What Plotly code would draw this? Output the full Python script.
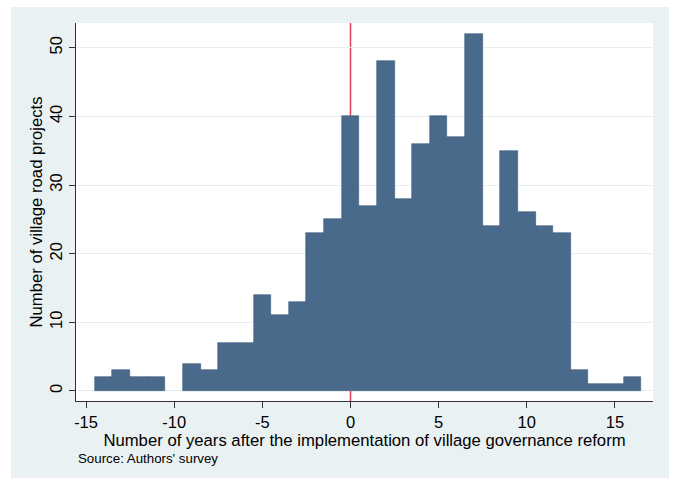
import plotly.graph_objects as go

years = [-14, -13, -12, -11, -10, -9, -8, -7, -6, -5, -4, -3, -2, -1, 0, 1, 2, 3, 4, 5, 6, 7, 8, 9, 10, 11, 12, 13, 14, 15, 16]
counts = [2, 3, 2, 2, 0, 4, 3, 7, 7, 14, 11, 13, 23, 25, 40, 27, 48, 28, 36, 40, 37, 52, 24, 35, 26, 24, 23, 3, 1, 1, 2]
x_ticks = [-15, -10, -5, 0, 5, 10, 15]
x_tick_labels = ["-15", "-10", "-5", "0", "5", "10", "15"]
y_ticks = [0, 10, 20, 30, 40, 50]
reform_year = 0

BG = "#EAF1F3"
BAR = "#4A6A8C"
FONT = "Liberation Sans, Arial, sans-serif"

fig = go.Figure()
fig.add_trace(go.Bar(
    x=years, y=counts, width=1,
    marker=dict(color=BAR, line=dict(color="#3F5E7E",
                                     width=[0.6 if c > 0 else 0 for c in counts])),
    showlegend=False,
))

fig.add_shape(type="rect", xref="paper", yref="paper",
              x0=-0.1127, x1=1.0277, y0=-0.2037, y1=1.0423,
              fillcolor=BG, line=dict(width=0), layer="below")
fig.add_shape(type="rect", xref="paper", yref="paper",
              x0=0, x1=1, y0=0, y1=1,
              fillcolor="white", line=dict(width=0), layer="below")
fig.add_shape(type="line", xref="x", yref="paper",
              x0=reform_year, x1=reform_year, y0=0, y1=1,
              line=dict(color="#E0405A", width=1.5), layer="below")

fig.add_annotation(text="Source: Authors' survey", xref="paper", yref="paper",
                   x=0.0, y=-0.152, xanchor="left", yanchor="middle",
                   showarrow=False, font=dict(size=13.3, color="black", family=FONT))

fig.update_layout(
    width=673, height=480,
    margin=dict(l=76, r=20, t=23, b=79),
    paper_bgcolor="white", plot_bgcolor="rgba(0,0,0,0)",
    font=dict(family=FONT, color="black", size=16),
    bargap=0,
    xaxis=dict(
        range=[-15.57, 17.16], tickvals=x_ticks, ticktext=x_tick_labels,
        ticks="outside", ticklen=6, automargin=False,
        tickcolor="#333", showline=True, linecolor="#333", linewidth=1,
        showgrid=False, zeroline=False,
        tickfont=dict(size=16.5),
        title=dict(text="Number of years after the implementation of village governance reform",
                   font=dict(size=16.7), standoff=1),
    ),
    yaxis=dict(
        range=[-1.46, 53.6], tickvals=y_ticks, ticks="outside", ticklen=6,
        automargin=False,
        tickcolor="#333", showline=True, linecolor="#333", linewidth=1,
        showgrid=True, gridcolor="#E6EEF1", gridwidth=1, zeroline=False,
        tickangle=-90, tickfont=dict(size=16.5),
        title=dict(text="Number of village road projects", font=dict(size=16.7), standoff=0),
    ),
)

fig.write_html("out.html", config={"displayModeBar": False})

with open("out.html", "r", encoding="utf-8") as f:
    html = f.read()
html = html.replace("<body>", '<body style="margin:0;padding:0;overflow:hidden">', 1)
with open("out.html", "w", encoding="utf-8") as f:
    f.write(html)
